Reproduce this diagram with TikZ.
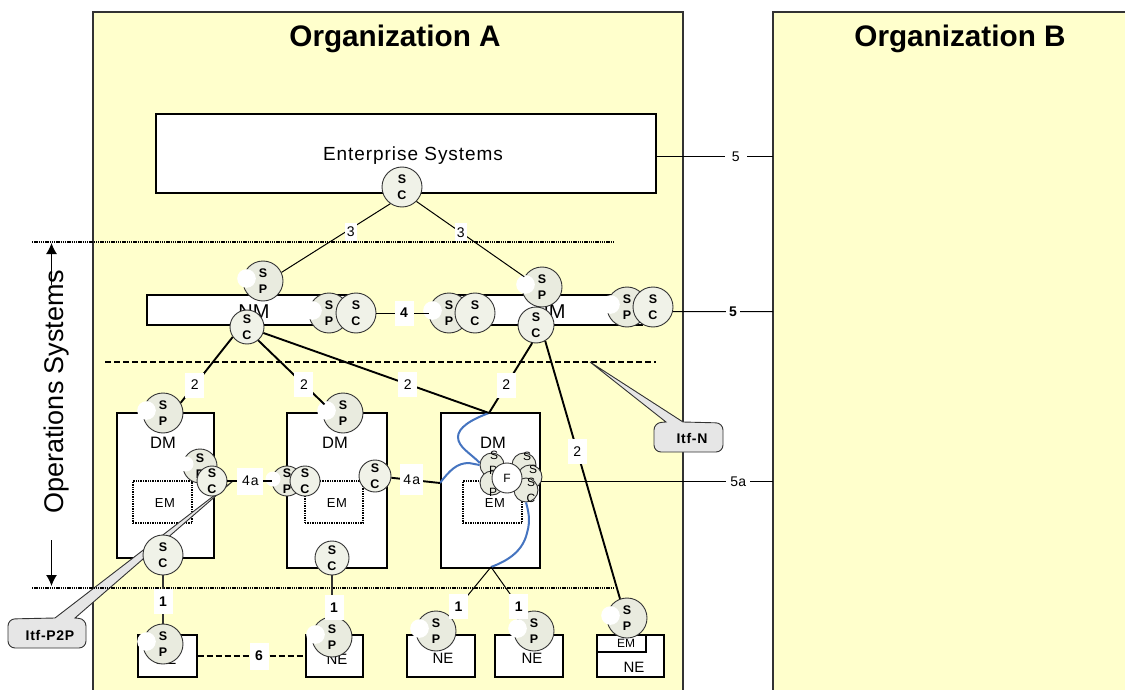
\documentclass[tikz,border=0pt]{standalone}
\usepackage{fontspec}
\usetikzlibrary{arrows.meta}
\setmainfont{Liberation Sans}
\definecolor{orgfill}{HTML}{FFFFCC}
\definecolor{spfill}{HTML}{E9EBDF}
\definecolor{scfill}{HTML}{F0F2E8}
\definecolor{edge}{HTML}{333333}
\definecolor{bluecurve}{HTML}{4574C0}
\definecolor{callfill}{HTML}{E6E6E6}
\tikzset{
  org/.style={fill=orgfill,draw=none},
  orgline/.style={draw=edge,line width=1.3pt},
  box/.style={draw=black,fill=white,line width=1.05pt},
  ball/.style={circle,draw=edge,line width=.9pt,inner sep=0pt},
  spball/.style={ball,fill=spfill},
  scball/.style={ball,fill=scfill},
  balltext/.style={inner sep=0pt,align=center,font=\fontsize{12.5}{16}\selectfont\bfseries},
  title/.style={font=\fontsize{29.7}{32}\selectfont\bfseries,inner sep=0pt},
  lbl/.style={fill=white,inner sep=0pt,minimum width=19pt,minimum height=25pt,font=\fontsize{14}{16}\selectfont},
  lbls/.style={lbl,font=\fontsize{14}{16}\selectfont\addfontfeature{LetterSpace=8}},
  lblb/.style={lbl,font=\fontsize{14}{16}\selectfont\bfseries},
  thinline/.style={draw=black,line width=1pt},
  thickline/.style={draw=black,line width=1.9pt},
  dotline/.style={draw=black,line width=2pt,dash pattern=on 1.4pt off .8pt},
  dashline/.style={draw=black,line width=1.8pt,dash pattern=on 6pt off 3pt},
  emdot/.style={draw=black,fill=white,line width=1.6pt,dash pattern=on 1.4pt off 1pt},
  callout/.style={draw=edge,fill=callfill,line width=.9pt},
  calltext/.style={inner sep=0pt,font=\fontsize{14}{16}\selectfont\bfseries\addfontfeature{LetterSpace=5}},
  emtext/.style={inner sep=0pt,font=\fontsize{13}{15}\selectfont\addfontfeature{LetterSpace=5}},
  netext/.style={inner sep=0pt,font=\fontsize{15}{17}\selectfont},
  dmtext/.style={inner sep=0pt,font=\fontsize{16.5}{18}\selectfont},
  nmtext/.style={inner sep=0pt,font=\fontsize{20}{22}\selectfont},
  bluec/.style={draw=bluecurve,line width=2pt},
  txt/.style={inner sep=0pt},
}
\newcommand{\SPball}[4]{%
  \node[spball,minimum size=2*#4 pt] (#1) at (#2,#3) {};
  \fill[white] (#2-16.5,#3-2.5) circle (9.3);
  \node[balltext] (#1t) at (#2,#3) {S\\P};}
\newcommand{\SPsmall}[4]{%
  \node[spball,minimum size=2*#4 pt] (#1) at (#2,#3) {};
  \fill[white] (#2-14,#3-2) circle (7.5);
  \node[balltext] (#1t) at (#2,#3) {S\\P};}
\newcommand{\SCball}[4]{%
  \node[scball,minimum size=2*#4 pt] (#1) at (#2,#3) {};
  \node[balltext] (#1t) at (#2,#3) {S\\C};}
\begin{document}
\begin{tikzpicture}[x=1pt,y=-1pt]
\useasboundingbox (0,0) rectangle (1125,690);
\fill[white] (0,0) rectangle (1125,690);
% organisations
\fill[org] (93,12) rectangle (683,692);
\fill[org] (773,12) rectangle (1127,692);
\draw[orgline] (93,692) -- (93,12) -- (683,12) -- (683,692);
\draw[orgline] (773,692) -- (773,12) -- (1127,12);
\node[title] (orgA) at (395,39) {Organization A};
\node[title] (orgB) at (960,39) {Organization B};
% layer lines
\draw[dotline] (32,242) -- (613,242);
\draw[dashline] (105,362) -- (656,362);
% callout Itf-N
\coordinate (itfntip) at (590,362);
\draw[callout] (itfntip) -- (683,422) [rounded corners=7pt] -- (723,423) -- (723,452) -- (654,452) -- (654,423) [sharp corners] -- (666,422) -- cycle;
\node[calltext] (itfn) at (692,438) {Itf-N};
% side arrows and label
\coordinate (opTop) at (51.5,243);
\coordinate (opUp) at (51.5,285);
\coordinate (opDown) at (51.5,540);
\coordinate (opBot) at (51.5,586);
\draw[-{Latex[length=11pt,width=11pt]},line width=1.4pt] (opUp) -- (opTop);
\draw[-{Latex[length=11pt,width=11pt]},line width=1.4pt] (opDown) -- (opBot);
\node[txt,rotate=90,font=\fontsize{27}{30}\selectfont] (ops) at (57,392) {Operations Systems};
% enterprise
\node[box,minimum width=500pt,minimum height=79pt,inner sep=0pt] (ent) at (406,153.5) {};
\node[txt,font=\fontsize{19}{21}\selectfont\addfontfeature{LetterSpace=5}] (enttxt) at (413,156) {Enterprise Systems};
\SCball{entsc}{402}{187}{20}
% NM boxes
\node[box,minimum width=205pt,minimum height=30pt,inner sep=0pt] (nm1) at (249.5,310) {};
\node[box,minimum width=186pt,minimum height=30pt,inner sep=0pt] (nm2) at (549,310) {};
\node[nmtext] (nm1t) at (254,312) {NM};
\node[nmtext] (nm2t) at (550,312) {NM};
\SPball{nmspa}{263}{281}{20}
\SPball{nmspb}{329}{313}{20}
\SCball{nmscb}{356}{313}{20}
\SCball{nmsca}{247}{327}{17}
\SPball{nmspc}{449}{313}{20}
\SCball{nmscc}{475}{313}{20}
\SPball{nmspd}{542}{287}{20}
\SCball{nmscd}{536}{325}{18}
\SPball{nmspe}{627}{307}{20}
\SCball{nmsce}{653}{307}{20}
% DM boxes
\node[box,minimum width=97pt,minimum height=145pt,inner sep=0pt] (dma) at (165.5,485.5) {};
\node[box,minimum width=100pt,minimum height=155pt,inner sep=0pt] (dmb) at (337,490.5) {};
\node[box,minimum width=99pt,minimum height=155pt,inner sep=0pt] (dmc) at (490.5,490.5) {};
\node[dmtext] (dmat) at (163,443) {DM};
\node[dmtext] (dmbt) at (335,443) {DM};
\node[dmtext] (dmct) at (493,443) {DM};
% EM boxes
\node[emdot,minimum width=59pt,minimum height=42pt,inner sep=0pt] (ema) at (162.5,502) {};
\node[emdot,minimum width=58pt,minimum height=42pt,inner sep=0pt] (emb) at (334,502) {};
\node[emdot,minimum width=59pt,minimum height=42pt,inner sep=0pt] (emc) at (492.5,502) {};
\node[emtext] (emat) at (165,503) {EM};
\node[emtext] (embt) at (337,503) {EM};
\node[emtext] (emct) at (495,503) {EM};
% callout wedge Itf-P2P, over the first DM box
\draw[callout] (233,481) -- (75,618) [rounded corners=7pt] -- (86,619) -- (86,648) -- (8,648) -- (8,619) [sharp corners] -- (55,618) -- cycle;
\node[calltext] (itfp) at (50,635) {Itf-P2P};
\draw[dotline] (32,588) -- (613,588);
% NE boxes
\node[box,minimum width=59pt,minimum height=42pt,inner sep=0pt] (nea) at (167.5,656) {};
\node[box,minimum width=57pt,minimum height=42pt,inner sep=0pt] (neb) at (334.5,656) {};
\node[box,minimum width=68pt,minimum height=42pt,inner sep=0pt] (nec) at (441,656) {};
\node[box,minimum width=68pt,minimum height=42pt,inner sep=0pt] (ned) at (529,656) {};
\node[box,minimum width=67pt,minimum height=42pt,inner sep=0pt] (nee) at (630.5,656) {};
\node[box,minimum width=49pt,minimum height=17pt,inner sep=0pt] (eme) at (621.5,643.5) {};
\node[netext] (neat) at (166,659) {NE};
\node[netext] (nebt) at (337,659) {NE};
\node[netext] (nect) at (443,658) {NE};
\node[netext] (nedt) at (532,658) {NE};
\node[netext] (neet) at (634,667) {NE};
\node[txt,font=\fontsize{12}{14}\selectfont] (emet) at (626,643) {EM};
% DM balls
\SPball{dmspa}{163}{413}{20}
\SPsmall{dmspb}{200}{466}{17}
\SCball{dmsca}{212}{481}{15}
\SCball{dmscb}{163}{555}{20}
\SPball{dmspc}{343}{413}{20}
\SPsmall{dmspd}{287}{481}{15}
\SCball{dmscc}{305}{481}{15}
\SCball{dmscd}{375}{476}{16}
\SCball{dmsce}{332}{558}{17}
% cluster in third DM
\node[spball,minimum size=24pt] (cla) at (492,465) {};
\node[spball,minimum size=24pt] (clb) at (492,483) {};
\node[spball,minimum size=24pt] (clc) at (524,465) {};
\node[spball,minimum size=24pt] (cld) at (530,477) {};
\node[spball,minimum size=24pt] (cle) at (526,490) {};
\node[balltext,font=\fontsize{12}{16}\selectfont] (clas) at (494,455) {S};
\node[balltext,font=\fontsize{12}{16}\selectfont] (clap) at (493,470) {P};
\node[balltext,font=\fontsize{12}{16}\selectfont] (clbp) at (493,492) {P};
\node[balltext,font=\fontsize{12}{16}\selectfont] (clcs) at (527,456) {S};
\node[balltext,font=\fontsize{12}{16}\selectfont] (cldp) at (533,469) {S};
\node[balltext,font=\fontsize{12}{16}\selectfont] (clds) at (531,482) {S};
\node[balltext,font=\fontsize{12}{16}\selectfont] (clec) at (531,498) {C};
\node[ball,fill=white,minimum size=30pt,font=\fontsize{12}{14}\selectfont] (clf) at (507,478) {F};
% NE balls
\SPball{nesa}{163}{644}{20}
\SPball{nesb}{332}{637}{20}
\SPball{nesc}{436}{631}{20}
\SPball{nesd}{534}{631}{20}
\SPball{nese}{627}{618}{20}
% blue curves
\coordinate (dmctop) at (489,413);
\coordinate (dmcbot) at (491,567);
\coordinate (dmcleft) at (440,483);
\draw[bluec] (dmctop) .. controls (470,420) and (458,428) .. (458,437) .. controls (458,447) and (470,453) .. (cla.170);
\draw[bluec] (dmcleft) .. controls (450,470) and (457,463) .. (469,463) -- (cla.west);
\draw[bluec] (cle.south) .. controls (528,510) and (531,520) .. (527,533) .. controls (523,550) and (510,560) .. (dmcbot);
% connectors
\draw[thinline] (entsc.235) -- node[lbl,minimum width=12pt,minimum height=18pt,pos=.41,xshift=5pt] (l3a) {3} (nmspa.25);
\draw[thinline] (entsc.-45) -- node[lbl,minimum width=12pt,minimum height=18pt,pos=.41] (l3b) {3} (nmspd.150);
\coordinate (orgB5) at (773,156.5);
\coordinate (orgB5b) at (773,311.5);
\coordinate (orgB5a) at (773,481.5);
\draw[thinline] (ent.east |- orgB5) -- node[lbl,minimum width=22pt,minimum height=16pt,pos=.68] (l5a) {5} (orgB5);
\draw[thinline] (nmsce.-13) -- node[lblb,minimum width=14pt,minimum height=18pt,pos=.6] (l5b) {5} (orgB5b);
\draw[thinline] ([xshift=-1pt]cld.east |- orgB5a) -- node[lbl,minimum width=24pt,minimum height=18pt,pos=.85] (l5c) {5a} (orgB5a);
\draw[thinline] (nmscb) -- node[lblb,pos=.53] (l4) {4} (nmspc);
\draw[thickline] (nmsca.215) -- node[lbl,pos=.73] (l2a) {2} (dmspa.30);
\draw[thickline] (nmsca.-50) -- node[lbl,pos=.69] (l2b) {2} (dmspc.155);
\draw[thickline] (nmsca.-20) -- node[lbl,pos=.64] (l2c) {2} (dmctop);
\draw[thickline] (nmscd.258) -- node[lbl,pos=.6] (l2d) {2} (dmctop);
\draw[thickline] (nmscd.-60) -- node[lbl,pos=.43] (l2e) {2} (nese.110);
\draw[thickline] (dmsca) -- node[lbls,minimum width=26pt,minimum height=27pt,pos=.52] (l4a) {4a} (dmspd);
\draw[thickline] (dmscd) -- node[lbls,minimum width=23pt,minimum height=31pt,pos=.42] (l4b) {4a} (dmcleft);
\draw[thinline,draw=edge,line width=1.1pt] (dmscb) -- node[lblb,pos=.55] (l1a) {1} (nesa);
\draw[thinline,draw=edge,line width=1.1pt] (dmsce) -- node[lblb,pos=.78,xshift=2pt] (l1b) {1} (nesb);
\draw[thinline] (dmcbot) -- node[lblb,pos=.8] (l1c) {1} (nesc.45);
\draw[thinline] (dmcbot) -- node[lblb,pos=.85] (l1d) {1} (nesd.120);
\draw[draw=black,line width=2pt,dash pattern=on 6pt off 3pt] (nea.east) -- node[lblb,minimum height=27pt,pos=.57] (l6) {6} (neb.west);
\end{tikzpicture}
\end{document}
